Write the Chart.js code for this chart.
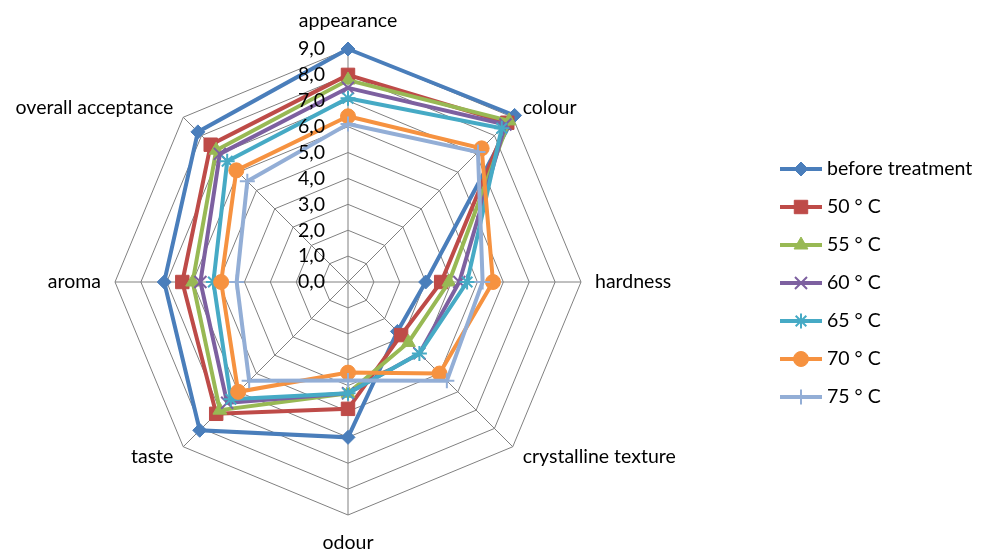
<!DOCTYPE html>
<html>
<head>
<meta charset="utf-8">
<script src="https://cdn.jsdelivr.net/npm/chart.js@4.4.1/dist/chart.umd.min.js"></script>
<style>
  html, body { margin: 0; padding: 0; background: #fff; }
  #wrap { width: 988px; height: 550px; }
</style>
</head>
<body>
<div id="wrap"><canvas id="radarChart" width="988" height="550"></canvas></div>
<script>
// sensory attributes, one spoke each
var categories = ['appearance', 'colour', 'hardness', 'crystalline texture', 'odour', 'taste', 'aroma', 'overall acceptance'];
var tickLabels = ['0,0', '1,0', '2,0', '3,0', '4,0', '5,0', '6,0', '7,0', '8,0', '9,0'];
var seriesNames = ['before treatment', '50 \u00b0 C', '55 \u00b0 C', '60 \u00b0 C', '65 \u00b0 C', '70 \u00b0 C', '75 \u00b0 C'];

// mean scores per treatment
var beforeTreatment = [9.0, 9.1, 3.0, 2.7, 6.0, 8.1, 7.1, 8.2];
var temp50 = [8.0, 8.7, 3.6, 2.9, 4.9, 7.2, 6.4, 7.5];
var temp55 = [7.8, 8.8, 3.9, 3.3, 4.3, 7.0, 6.0, 7.2];
var temp60 = [7.5, 8.6, 4.3, 3.9, 4.3, 6.6, 5.7, 7.0];
var temp65 = [7.1, 8.4, 4.6, 3.9, 4.3, 6.4, 5.2, 6.6];
var temp70 = [6.4, 7.3, 5.6, 5.0, 3.5, 6.0, 4.9, 6.1];
var temp75 = [6.1, 7.1, 5.2, 5.4, 3.8, 5.4, 4.3, 5.5];

var seriesData = [beforeTreatment, temp50, temp55, temp60, temp65, temp70, temp75];
var lineColors = ['#4A7EBB', '#BE4B48', '#98B954', '#7D60A0', '#46AAC5', '#F69240', '#93AED6'];
var markerStyles = ['rectRot', 'rect', 'triangle', 'crossRot', 'star', 'circle', 'cross'];
var markerSizes = [7, 9.5, 8, 8.5, 7.5, 7.5, 7.5];

var FONT = '19.5px Lato';

var datasets = seriesNames.map(function(name, i) {
    var outlineOnly = ['crossRot', 'star', 'cross'].indexOf(markerStyles[i]) >= 0;
    return {
        label: name,
        data: seriesData[i],
        borderColor: lineColors[i],
        borderWidth: 4,
        backgroundColor: lineColors[i],
        pointStyle: markerStyles[i],
        pointRadius: markerSizes[i],
        pointBackgroundColor: lineColors[i],
        pointBorderColor: lineColors[i],
        pointBorderWidth: outlineOnly ? 2 : 1,
        fill: false,
        tension: 0,
        order: seriesNames.length - i   // later series on top
    };
});

// spoke captions placed just outside the outer ring
var spokeLabels = {
    id: 'spokeLabels',
    afterDraw: function(chart) {
        var scale = chart.scales.r;
        var ctx = chart.ctx;
        ctx.save();
        ctx.font = FONT;
        ctx.fillStyle = '#000';
        ctx.textBaseline = 'middle';
        chart.data.labels.forEach(function(text, i) {
            var probe = scale.getPointPosition(i, scale.drawingArea);
            var dx = probe.x - scale.xCenter;
            var vertical = Math.abs(dx) < 1;
            var pos = scale.getPointPosition(i, scale.drawingArea + (vertical ? 28 : 14));
            ctx.textAlign = vertical ? 'center' : (dx > 0 ? 'left' : 'right');
            ctx.fillText(text, pos.x, pos.y);
        });
        ctx.restore();
    }
};

// value labels left of the vertical spoke, on top of the lines
var valueLabels = {
    id: 'valueLabels',
    afterDatasetsDraw: function(chart) {
        var scale = chart.scales.r;
        var ctx = chart.ctx;
        ctx.save();
        ctx.font = FONT;
        ctx.fillStyle = '#000';
        ctx.textAlign = 'right';
        ctx.textBaseline = 'middle';
        scale.ticks.forEach(function(tick, i) {
            var y = scale.yCenter - scale.getDistanceFromCenterForValue(tick.value);
            ctx.fillText(tickLabels[i], scale.xCenter - 23, y);
        });
        ctx.restore();
    }
};

// legend on the right: short line with the series marker
var sideLegend = {
    id: 'sideLegend',
    afterDraw: function(chart) {
        var ctx = chart.ctx;
        chart.data.datasets.forEach(function(ds, i) {
            var y = 169 + i * 38;
            ctx.save();
            ctx.strokeStyle = ds.borderColor;
            ctx.lineWidth = ds.borderWidth;
            ctx.beginPath();
            ctx.moveTo(780, y);
            ctx.lineTo(822, y);
            ctx.stroke();
            ctx.fillStyle = ds.pointBackgroundColor;
            ctx.strokeStyle = ds.pointBorderColor;
            ctx.lineWidth = ds.pointBorderWidth;
            Chart.helpers.drawPoint(ctx, {
                pointStyle: ds.pointStyle,
                radius: ds.pointRadius,
                rotation: 0,
                borderWidth: ds.pointBorderWidth
            }, 801, y);
            ctx.fillStyle = '#000';
            ctx.font = FONT;
            ctx.textAlign = 'left';
            ctx.textBaseline = 'middle';
            ctx.fillText(ds.label, 827, y);
            ctx.restore();
        });
    }
};

var ctx = document.getElementById('radarChart').getContext('2d');
var chart = new Chart(ctx, {
    type: 'radar',
    data: {
        labels: categories,
        datasets: datasets
    },
    options: {
        responsive: false,
        devicePixelRatio: 1,
        animation: false,
        events: [],
        layout: {
            padding: { left: 115, right: 407, top: 49, bottom: 35 }
        },
        scales: {
            r: {
                min: 0,
                max: 9,
                ticks: { stepSize: 1, display: false },
                pointLabels: { display: false },
                grid: { color: '#808080', lineWidth: 1 },
                angleLines: { color: '#808080', lineWidth: 1 }
            }
        },
        plugins: {
            legend: { display: false },
            tooltip: { enabled: false }
        }
    },
    plugins: [spokeLabels, valueLabels, sideLegend]
});
</script>
</body>
</html>
